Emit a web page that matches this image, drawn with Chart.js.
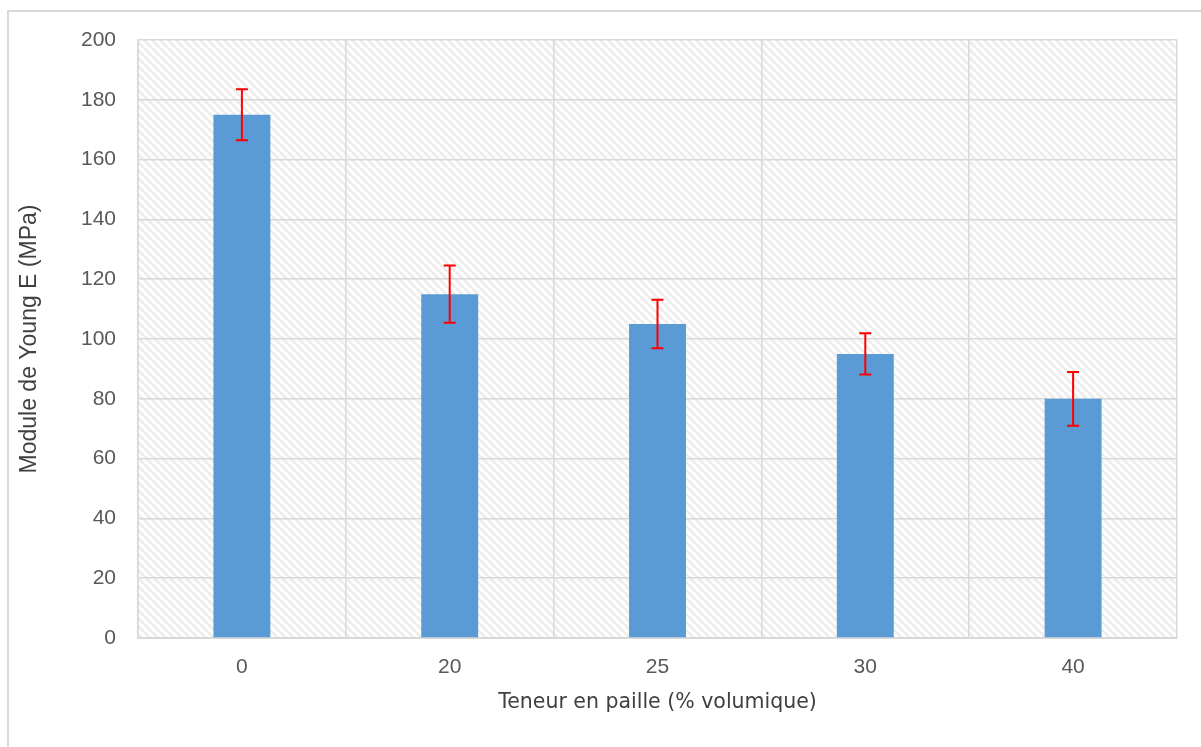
<!DOCTYPE html>
<html>
<head>
<meta charset="utf-8">
<script src="https://cdn.jsdelivr.net/npm/chart.js@4"></script>
<style>
  html, body { margin: 0; padding: 0; background: #fff; }
  #wrap { position: relative; width: 1201px; height: 747px; overflow: hidden; }
  #frame { position: absolute; left: 7px; top: 10px; width: 1300px; height: 800px;
           border-left: 2px solid #d9d9d9; border-top: 2px solid #d9d9d9; }
  canvas { position: absolute; left: 0; top: 0; }
</style>
</head>
<body>
<div id="wrap">
  <div id="frame"></div>
  <canvas id="chart" width="1201" height="747"></canvas>
</div>
<script>
// données
const categories = ['0', '20', '25', '30', '40']
const youngModulus = [175, 115, 105, 95, 80]
const errors = [8.5, 9.6, 8.1, 6.9, 9.0]

const xTitle = 'Teneur en paille (% volumique)'
const yTitle = 'Module de Young E (MPa)'

// fond hachuré de la zone de tracé
function makeHatch() {
  const tile = document.createElement('canvas')
  tile.width = 8
  tile.height = 8
  const c = tile.getContext('2d')
  c.fillStyle = '#ffffff'
  c.fillRect(0, 0, 8, 8)
  c.strokeStyle = '#ededed'
  c.lineWidth = 3
  for (const off of [-8, 0, 8]) {
    c.beginPath()
    c.moveTo(off, 0)
    c.lineTo(off + 8, 8)
    c.stroke()
  }
  return c.createPattern(tile, 'repeat')
}

const hatchPlugin = {
  id: 'hatch',
  beforeDraw(chart) {
    const { ctx, chartArea: a } = chart
    ctx.save()
    ctx.fillStyle = makeHatch()
    ctx.fillRect(a.left, a.top, a.right - a.left, a.bottom - a.top)
    ctx.restore()
  }
}

// barres d'erreur
const errorBarPlugin = {
  id: 'errorBars',
  afterDatasetsDraw(chart) {
    const { ctx } = chart
    const yScale = chart.scales.y
    const meta = chart.getDatasetMeta(0)
    ctx.save()
    ctx.strokeStyle = '#ff0000'
    ctx.lineWidth = 2
    meta.data.forEach((bar, i) => {
      const x = bar.x
      const yTop = yScale.getPixelForValue(youngModulus[i] + errors[i])
      const yBot = yScale.getPixelForValue(youngModulus[i] - errors[i])
      ctx.beginPath()
      ctx.moveTo(x, yTop)
      ctx.lineTo(x, yBot)
      ctx.moveTo(x - 6, yTop)
      ctx.lineTo(x + 6, yTop)
      ctx.moveTo(x - 6, yBot)
      ctx.lineTo(x + 6, yBot)
      ctx.stroke()
    })
    ctx.restore()
  }
}

const tickFont = { family: 'Liberation Sans', size: 21 }

new Chart(document.getElementById('chart'), {
  type: 'bar',
  data: {
    labels: categories,
    datasets: [{
      data: youngModulus,
      backgroundColor: '#5b9bd5',
      borderWidth: 0,
      categoryPercentage: 1,
      barPercentage: 0.274
    }]
  },
  options: {
    responsive: false,
    animation: false,
    layout: { padding: { left: 15, top: 40, right: 24, bottom: 20 } },
    plugins: {
      legend: { display: false },
      tooltip: { enabled: false }
    },
    scales: {
      x: {
        grid: { color: '#d9d9d9', lineWidth: 1.5, drawTicks: false, offset: true },
        border: { color: '#d9d9d9', width: 2 },
        ticks: { font: tickFont, color: '#595959', padding: 17 },
        title: {
          display: true,
          text: xTitle,
          font: { family: 'DejaVu Sans', size: 20.5 },
          color: '#404040',
          padding: { top: 0, bottom: 12 }
        },
        afterFit(scale) { scale.height = 89 }
      },
      y: {
        min: 0,
        max: 200,
        ticks: { stepSize: 20, font: tickFont, color: '#595959', padding: 22 },
        grid: { color: '#d9d9d9', lineWidth: 1.5, drawTicks: false },
        border: { color: '#d9d9d9', width: 1.5 },
        title: {
          display: true,
          text: yTitle,
          font: { family: 'Liberation Sans', size: 23 },
          color: '#404040',
          padding: { top: 1, bottom: 0 }
        },
        afterFit(scale) { scale.width = 123 }
      }
    }
  },
  plugins: [hatchPlugin, errorBarPlugin]
})
</script>
</body>
</html>
